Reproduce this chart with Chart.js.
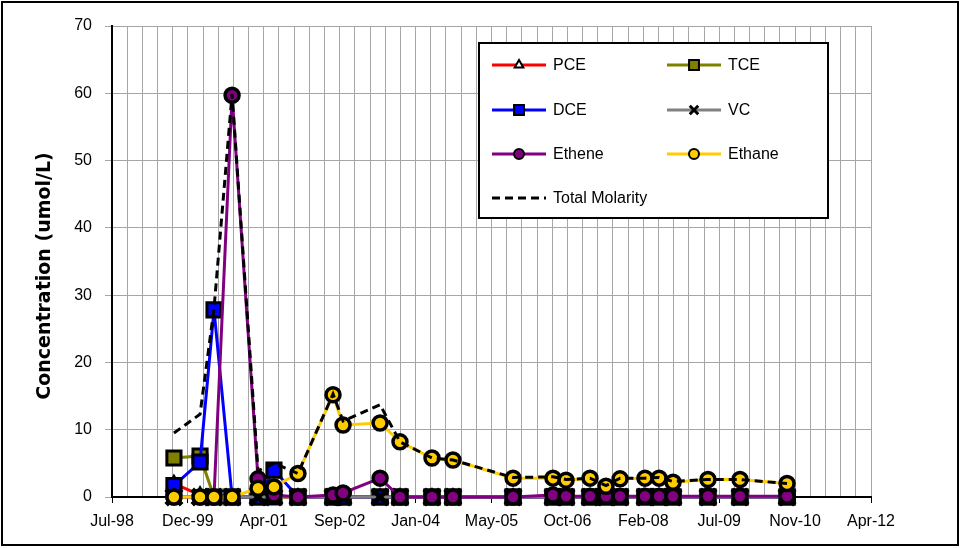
<!DOCTYPE html>
<html>
<head>
<meta charset="utf-8">
<script src="https://cdn.jsdelivr.net/npm/chart.js@4.4.0/dist/chart.umd.min.js"></script>
<style>
  body { margin: 0; background: #fff; }
  #wrap { width: 961px; height: 548px; }
</style>
</head>
<body>
<div id="wrap"><canvas id="myChart" width="961" height="548"></canvas></div>
<script>
// sampling dates
var dates = ['1999-09-05', '2000-02-24', '2000-05-26', '2000-09-22', '2001-03-12', '2001-06-25',
  '2001-11-30', '2002-07-19', '2002-09-23', '2003-05-25', '2003-10-03', '2004-05-01',
  '2004-09-16', '2005-10-17', '2006-07-07', '2006-10-01', '2007-03-08', '2007-06-21',
  '2007-09-22', '2008-03-04', '2008-06-05', '2008-09-05', '2009-04-23', '2009-11-20', '2010-09-26'];

// concentrations, umol/L
var pce    = [2.0, 0.3, 0, 0, 0, 0, 0, 0, 0, 0, 0, 0, 0, 0, 0, 0, 0, 0, 0, 0, 0, 0, 0, 0, 0];
var tce    = [5.8, 6.1, 0, 0, 0, 0, 0, 0, 0, 0, 0, 0, 0, 0, 0, 0, 0, 0, 0, 0, 0, 0, 0, 0, 0];
var dce    = [1.7, 5.2, 27.8, 0, 0, 4.0, 0, 0, 0, 0, 0, 0, 0, 0, 0, 0, 0, 0, 0, 0, 0, 0, 0, 0, 0];
var vc     = [0, 0, 0, 0, 0, 0, 0, 0, 0, 0, 0, 0, 0, 0, 0, 0, 0, 0, 0, 0, 0, 0, 0, 0, 0];
var ethene = [0, 0, 0, 59.7, 2.7, 0.3, 0, 0.3, 0.6, 2.8, 0, 0, 0, 0, 0.3, 0.1, 0.1, 0.1, 0.1, 0.1, 0.1, 0.1, 0.1, 0.1, 0.1];
var ethane = [0, 0, 0, 0, 1.3, 1.5, 3.5, 15.2, 10.7, 11.0, 8.2, 5.8, 5.5, 2.8, 2.8, 2.5, 2.8, 1.6, 2.7, 2.8, 2.8, 2.2, 2.6, 2.6, 2.0];
var total  = [9.5, 12.3, 28.0, 59.9, 3.9, 5.0, 3.5, 15.3, 11.3, 13.7, 8.2, 5.8, 5.5, 2.9, 3.0, 2.6, 2.8, 1.7, 2.8, 2.8, 2.9, 2.3, 2.6, 2.6, 2.0];

var tickLabels = ['Jul-98', 'Dec-99', 'Apr-01', 'Sep-02', 'Jan-04', 'May-05', 'Oct-06', 'Feb-08', 'Jul-09', 'Nov-10', 'Apr-12'];
var yTitle = 'Concentration (umol/L)';

// excel style day numbers for the date axis
function toSerial(s) {
  var p = s.split('-');
  return (Date.UTC(+p[0], +p[1] - 1, +p[2]) - Date.UTC(1899, 11, 30)) / 864e5;
}
function pts(arr) {
  return dates.map(function (d, i) { return { x: toSerial(d), y: arr[i] }; });
}

function series(label, arr, color, style, fill, radius, bw, order) {
  return {
    label: label,
    data: pts(arr),
    borderColor: color,
    backgroundColor: color,
    borderWidth: 3,
    pointStyle: style,
    pointRadius: radius,
    pointBackgroundColor: fill,
    pointBorderColor: '#000',
    pointBorderWidth: bw,
    tension: 0,
    clip: false,
    order: order
  };
}

var datasets = [
  series('PCE', pce, '#ff0000', 'triangle', '#ffffff', 7, 3, 6),
  series('TCE', tce, '#808000', 'rect', '#808000', 10, 3, 5),
  series('DCE', dce, '#0000ff', 'rect', '#0000ff', 10, 3, 4),
  series('VC', vc, '#808080', 'crossRot', '#000', 11, 5, 3),
  series('Ethene', ethene, '#800080', 'circle', '#800080', 7, 3.5, 2),
  series('Ethane', ethane, '#ffcc00', 'circle', '#ffcc00', 7, 3.5, 1),
  {
    label: 'Total Molarity',
    data: pts(total),
    borderColor: '#000',
    borderWidth: 3,
    borderDash: [8, 5],
    pointRadius: 0,
    tension: 0,
    clip: false,
    order: 0
  }
];

var labelFont = { family: 'Liberation Sans', size: 16 };

// legend box drawn by hand so it can have two columns
var legendSpots = [[492, 65], [667, 65], [492, 110], [667, 110], [492, 154], [667, 154], [492, 198]];
var legendRadius = { triangle: 5, rect: 7, crossRot: 6, circle: 5 };
var boxLegend = {
  id: 'boxLegend',
  afterDraw: function (chart) {
    var ctx = chart.ctx;
    ctx.save();
    ctx.fillStyle = '#fff';
    ctx.fillRect(479, 43, 349, 175);
    ctx.lineWidth = 2;
    ctx.strokeStyle = '#000';
    ctx.strokeRect(479, 43, 349, 175);
    chart.data.datasets.forEach(function (ds, i) {
      var x = legendSpots[i][0], y = legendSpots[i][1];
      ctx.save();
      ctx.strokeStyle = ds.borderColor;
      ctx.lineWidth = 3;
      ctx.setLineDash(ds.borderDash || []);
      ctx.beginPath();
      ctx.moveTo(x, y);
      ctx.lineTo(x + 54, y);
      ctx.stroke();
      ctx.restore();
      if (ds.pointRadius > 0) {
        ctx.save();
        ctx.fillStyle = ds.pointBackgroundColor;
        ctx.strokeStyle = '#000';
        ctx.lineWidth = ds.pointStyle === 'crossRot' ? 3 : 2;
        Chart.helpers.drawPoint(ctx, {
          pointStyle: ds.pointStyle,
          rotation: 0,
          radius: legendRadius[ds.pointStyle],
          borderWidth: ctx.lineWidth
        }, x + 27, y);
        ctx.restore();
      }
      ctx.fillStyle = '#000';
      ctx.font = '16px "Liberation Sans"';
      ctx.textBaseline = 'middle';
      ctx.fillText(ds.label, x + 61, y + 1);
    });

    // y axis title, centred on the whole chart like the original
    ctx.save();
    ctx.translate(45, 276);
    ctx.rotate(-Math.PI / 2);
    ctx.font = 'bold 19px "DejaVu Sans"';
    ctx.fillStyle = '#000';
    ctx.textAlign = 'center';
    ctx.textBaseline = 'middle';
    ctx.fillText(yTitle, 0, 0);
    ctx.restore();

    // outer frame
    ctx.lineWidth = 2;
    ctx.strokeStyle = '#000';
    ctx.strokeRect(2, 2, 956, 543);
    ctx.restore();
  }
};

var ctx = document.getElementById('myChart').getContext('2d');
var chart = new Chart(ctx, {
  type: 'line',
  data: { datasets: datasets },
  plugins: [boxLegend],
  options: {
    responsive: false,
    animation: false,
    layout: { padding: { top: 26, right: 90, left: 0, bottom: 0 } },
    plugins: { legend: { display: false }, tooltip: { enabled: false } },
    scales: {
      x: {
        type: 'linear',
        min: 36000,
        max: 41000,
        afterBuildTicks: function (s) {
          var t = [];
          for (var v = 36000; v <= 41000; v += 100) t.push({ value: v });
          s.ticks = t;
        },
        afterFit: function (s) { s.height = 51; },
        ticks: {
          autoSkip: false,
          maxRotation: 0,
          padding: 9,
          color: '#000',
          font: labelFont,
          callback: function (v) {
            return (v - 36000) % 500 === 0 ? tickLabels[(v - 36000) / 500] : '';
          }
        },
        grid: {
          color: '#a6a6a6',
          lineWidth: 1,
          tickLength: 6,
          tickColor: function (c) {
            return c.tick && (c.tick.value - 36000) % 500 === 0 ? '#000' : 'rgba(0,0,0,0)';
          }
        },
        border: { color: '#000', width: 2 }
      },
      y: {
        min: 0,
        max: 70,
        afterFit: function (s) { s.width = 112; },
        ticks: { stepSize: 10, padding: 13, color: '#000', font: labelFont },
        grid: { color: '#a6a6a6', lineWidth: 1, tickLength: 7 },
        border: { color: '#000', width: 2 },
        title: { display: false }
      }
    }
  }
});
</script>
</body>
</html>
